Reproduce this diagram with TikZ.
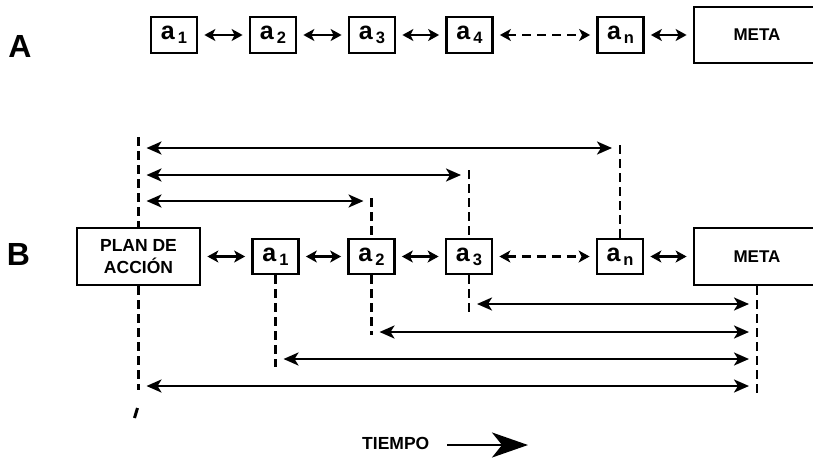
\documentclass[tikz,border=0pt]{standalone}
\usepackage{fontspec}
\setmainfont{Liberation Sans}
\usetikzlibrary{arrows.meta}
\newcommand\asub[1]{{\fontsize{25}{25}\selectfont a}\hspace{3pt}\raisebox{-4pt}{\fontsize{16.5}{16.5}\selectfont #1}}
\begin{document}
\begin{tikzpicture}[x=1pt,y=-1pt,
  box/.style={draw, line width=2.8pt, inner sep=0pt, font=\bfseries, fill=white},
  abox/.style={box, minimum width=46pt, minimum height=36pt},
  bigbox/.style={box, minimum width=126pt, minimum height=56pt, font=\bfseries\fontsize{17}{22}\selectfont, align=center},
  dbl/.style={line width=2.8pt, {Stealth[length=11pt,width=12pt,inset=3pt]}-{Stealth[length=11pt,width=12pt,inset=3pt]}, shorten <=6pt, shorten >=6pt},
  dbldash/.style={dbl, dash pattern=on 9pt off 6pt},
  spanarrow/.style={line width=2.5pt, {Stealth[length=15pt,width=13pt,inset=4pt]}-{Stealth[length=15pt,width=13pt,inset=4pt]}, shorten <=8pt, shorten >=8pt},
  guide/.style={line width=2.8pt, dash pattern=on 9pt off 5pt},
  lbl/.style={font=\bfseries\fontsize{32}{32}\selectfont, inner sep=0pt}
]
\clip (0,0) rectangle (813,461);
\fill[white] (0,0) rectangle (813,461);

% Row A
\node[lbl] (labA) at (20,46) {A};
\node[abox] (A1) at (174,35) {\asub{1}};
\node[abox] (A2) at (273,35) {\asub{2}};
\node[abox] (A3) at (372,35) {\asub{3}};
\node[abox] (A4) at (469.5,35) {\asub{4}};
\node[abox] (An) at (620.5,35) {\asub{n}};
\node[bigbox] (AM) at (757,35) {META};
\draw[dbl] (A1) -- (A2);
\draw[dbl] (A2) -- (A3);
\draw[dbl] (A3) -- (A4);
\draw[dbldash] (A4) -- (An);
\draw[dbl] (An) -- (AM);

% Row B
\node[lbl] (labB) at (18.5,254) {B};
\node[bigbox, minimum width=123pt, minimum height=57pt, font=\bfseries\fontsize{17.5}{22}\selectfont] (plan) at (138.5,256.5) {PLAN DE\\ACCIÓN};
\node[abox, minimum height=35pt] (B1) at (275.5,256.5) {\asub{1}};
\node[abox, minimum height=35pt] (B2) at (371.5,256.5) {\asub{2}};
\node[abox, minimum height=35pt] (B3) at (469,256.5) {\asub{3}};
\node[abox, minimum height=35pt] (Bn) at (620,256.5) {\asub{n}};
\node[bigbox, minimum height=57pt] (BM) at (757,256.5) {META};
\draw[dbl] (plan) -- (B1);
\draw[dbl] (B1) -- (B2);
\draw[dbl] (B2) -- (B3);
\draw[dbldash] (B3) -- (Bn);
\draw[dbl] (Bn) -- (BM);

% level coordinates
\coordinate (yPt) at (0,137);
\coordinate (yPb) at (0,390);
\coordinate (ynt) at (0,145);
\coordinate (y3t) at (0,170);
\coordinate (y3b) at (0,317);
\coordinate (y2t) at (0,198);
\coordinate (y2b) at (0,335);
\coordinate (y1b) at (0,367);
\coordinate (yMb) at (0,393);
\coordinate (s1) at (0,148);
\coordinate (s2) at (0,175);
\coordinate (s3) at (0,201);
\coordinate (s4) at (0,304);
\coordinate (s5) at (0,332);
\coordinate (s6) at (0,359);
\coordinate (s7) at (0,386);

% dashed guides
\draw[guide] (plan.center |- yPt) -- (plan.north);
\draw[guide] (plan.south) -- (plan.center |- yPb);
\draw[guide] (Bn.center |- ynt) -- (Bn.north);
\draw[guide] (B3.center |- y3t) -- (B3.north);
\draw[guide] (B3.south) -- (B3.center |- y3b);
\draw[guide] (B2.center |- y2t) -- (B2.north);
\draw[guide] (B2.south) -- (B2.center |- y2b);
\draw[guide] (B1.south) -- (B1.center |- y1b);
\draw[guide] (BM.south) -- (BM.center |- yMb);

% spans
\draw[spanarrow] (plan.center |- s1) -- (Bn.center |- s1);
\draw[spanarrow] (plan.center |- s2) -- (B3.center |- s2);
\draw[spanarrow] (plan.center |- s3) -- (B2.center |- s3);
\draw[spanarrow] (B3.center |- s4) -- (BM.center |- s4);
\draw[spanarrow] (B2.center |- s5) -- (BM.center |- s5);
\draw[spanarrow] (B1.center |- s6) -- (BM.center |- s6);
\draw[spanarrow] (plan.center |- s7) -- (BM.center |- s7);

% stray tick
\coordinate (tickA) at (137.5,408);
\coordinate (tickB) at (134.5,418);
\draw[line width=3pt] (tickA) -- (tickB);

% time
\node[font=\bfseries\fontsize{17.5}{17.5}\selectfont, inner sep=0pt, anchor=west] (tiempo) at (362,443) {TIEMPO};
\coordinate (tend) at (528,445);
\draw[line width=2.5pt, -{Stealth[length=36pt,width=25pt,inset=10pt]}] (tiempo.east |- tend) ++(18,0) -- (tend);
\end{tikzpicture}
\end{document}
